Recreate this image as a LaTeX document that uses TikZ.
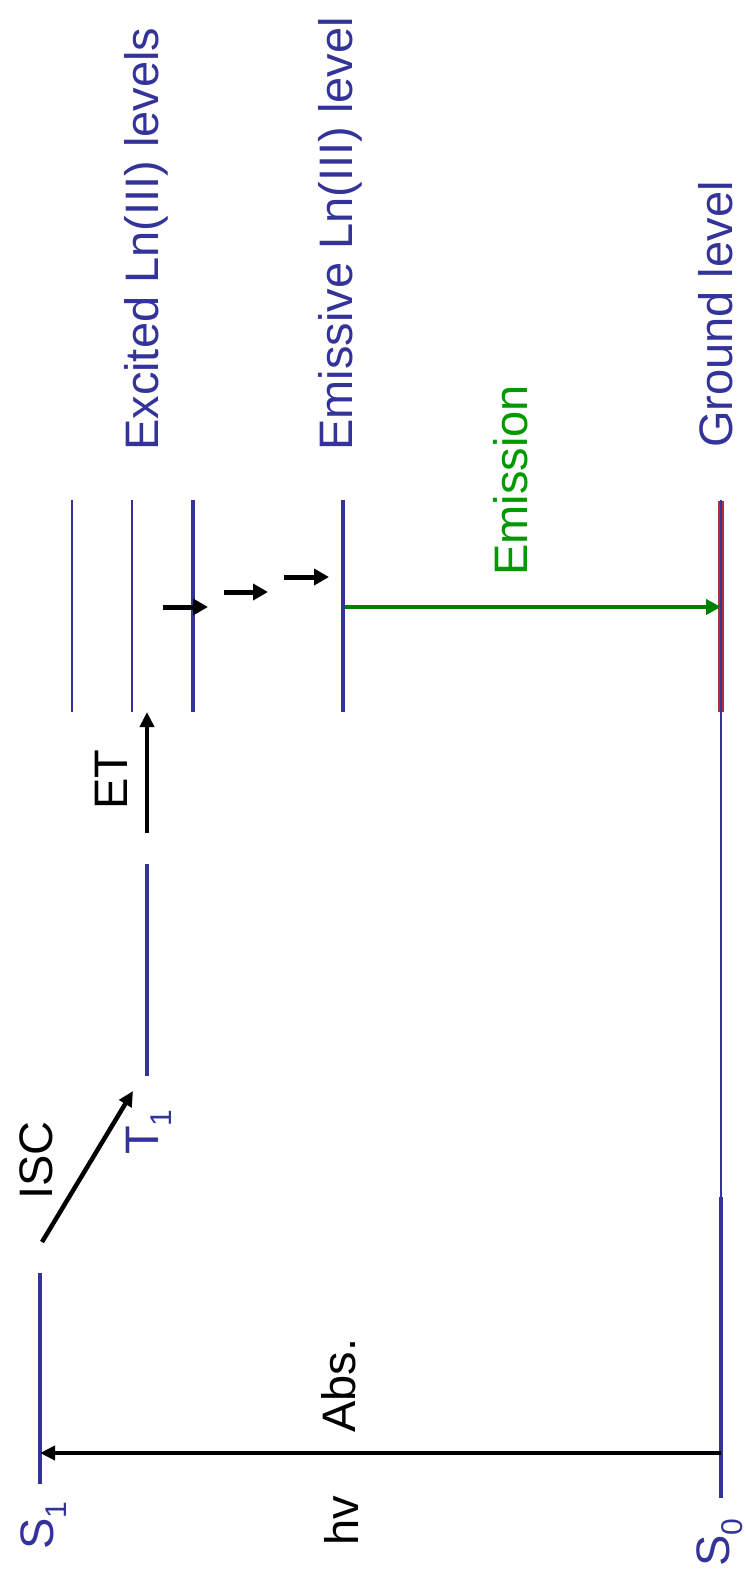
\documentclass[tikz,border=0pt]{standalone}
\usepackage{fontspec}
\setmainfont{Liberation Sans}
\usetikzlibrary{arrows.meta}
\definecolor{lvlblue}{RGB}{51,51,153}
\definecolor{emgreen}{RGB}{0,128,0}
\definecolor{emtext}{RGB}{0,153,0}
\definecolor{gndred}{RGB}{170,50,50}
\newcommand{\lowsub}[1]{\raisebox{-13pt}{\fontsize{30}{30}\selectfont #1}}
\tikzset{
  lvlthick/.style={lvlblue, line width=4.5pt},
  lvlthin/.style={lvlblue, line width=1.5pt},
  trans/.style={line width=4.5pt, -{Triangle[length=15pt,width=14pt]}},
  relax/.style={line width=5pt, -{Triangle[length=15pt,width=16pt]}},
  lbl/.style={rotate=90, anchor=base west, inner sep=0pt,
    font=\fontsize{47}{50}\selectfont},
}
\begin{document}
\begin{tikzpicture}[x=1pt, y=-1pt]
\useasboundingbox (0,0) rectangle (745,1580);

% ligand singlet, triplet and ground levels
\coordinate (s1a) at (40,1273);   \coordinate (s1b) at (40,1484);
\coordinate (t1a) at (147,864);   \coordinate (t1b) at (147,1076);
\coordinate (s0a) at (721,1197);  \coordinate (s0b) at (721,1498);
\draw[lvlthick] (s1a) -- (s1b);
\draw[lvlthick] (t1a) -- (t1b);
\draw[lvlthick] (s0a) -- (s0b);

% lanthanide levels
\coordinate (ln1a) at (72,500);   \coordinate (ln1b) at (72,712);
\coordinate (ln2a) at (132,500);  \coordinate (ln2b) at (132,712);
\coordinate (ln3a) at (193,500);  \coordinate (ln3b) at (193,712);
\coordinate (emia) at (343,500);  \coordinate (emib) at (343,712);
\coordinate (gnda) at (721,501);  \coordinate (gndb) at (721,712);
\draw[lvlthin] (ln1a) -- (ln1b);
\draw[lvlthin] (ln2a) -- (ln2b);
\draw[lvlthick] (ln3a) -- (ln3b);
\draw[lvlthick] (emia) -- (emib);
\draw[gndred, line width=6pt] (gnda) -- (gndb);
\draw[lvlblue, line width=1.3pt] (721,500) -- (s0a);

% absorption
\coordinate (absfrom) at (721,1453);
\coordinate (absto) at (40,1453);
\draw[trans] (absfrom) -- (absto);

% intersystem crossing
\coordinate (iscfrom) at (42,1242);
\coordinate (iscto) at (133,1091);
\draw[trans] (iscfrom) -- (iscto);

% energy transfer
\coordinate (etfrom) at (147,833);
\coordinate (etto) at (147,712);
\draw[trans] (etfrom) -- (etto);

% non-radiative relaxation steps
\coordinate (r1a) at (163,607);  \coordinate (r1b) at (208,607);
\coordinate (r2a) at (224,592);  \coordinate (r2b) at (268,592);
\coordinate (r3a) at (284,577);  \coordinate (r3b) at (329,577);
\draw[relax] (r1a) -- (r1b);
\draw[relax] (r2a) -- (r2b);
\draw[relax] (r3a) -- (r3b);

% emission
\coordinate (emfrom) at (345,607);
\coordinate (emto) at (721,607);
\draw[emgreen, line width=4.5pt, -{Triangle[length=15pt,width=15pt]}] (emfrom) -- (emto);

% labels
\node[lbl, lvlblue] (ls1) at (53,1550) {S\lowsub{1}};
\node[lbl, lvlblue] (ls0) at (729,1567) {S\lowsub{0}};
\node[lbl, lvlblue] (lt1) at (158,1155) {T\lowsub{1}};
\node[lbl] (lhv) at (358,1546) {hv};
\node[lbl] (labs) at (355,1433) {Abs.};
\node[lbl] (lisc) at (52,1200) {ISC};
\node[lbl] (let) at (127,810) {ET};
\node[lbl, lvlblue] (lexc) at (158,451) {Excited Ln(III) levels};
\node[lbl, lvlblue] (lemi) at (352,451) {Emissive Ln(III) level};
\node[lbl, emtext] (lem) at (527,576) {Emission};
\node[lbl, lvlblue] (lgnd) at (732,448) {Ground level};
\end{tikzpicture}
\end{document}
